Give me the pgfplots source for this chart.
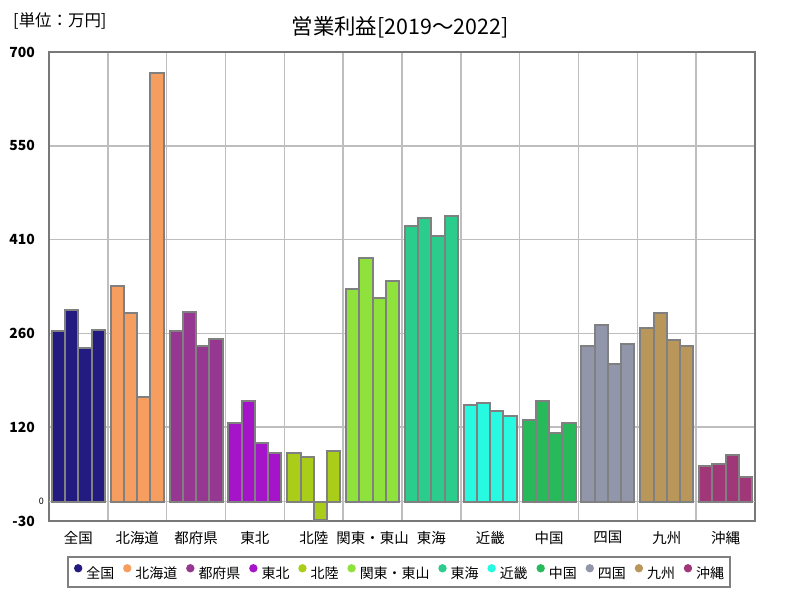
\documentclass[border=0pt]{standalone}
\usepackage{pgfplots}
\pgfplotsset{compat=1.18}
\usepackage{fontspec}
\setmainfont{Noto Sans CJK JP}
\definecolor{cA}{HTML}{231B80}
\definecolor{cB}{HTML}{F59E5F}
\definecolor{cC}{HTML}{963891}
\definecolor{cD}{HTML}{A514C8}
\definecolor{cE}{HTML}{AACD19}
\definecolor{cF}{HTML}{8FE13C}
\definecolor{cG}{HTML}{2ACD8C}
\definecolor{cH}{HTML}{28FAE1}
\definecolor{cI}{HTML}{28B95A}
\definecolor{cJ}{HTML}{9196AA}
\definecolor{cK}{HTML}{B9965A}
\definecolor{cL}{HTML}{A03778}
\definecolor{edge}{HTML}{808080}
\definecolor{gridc}{HTML}{BEBEBE}
\definecolor{framec}{HTML}{787878}
\begin{document}
\begin{tikzpicture}
\useasboundingbox (0bp,0bp) rectangle (800bp,600bp);
\node[font=\fontsize{21.5}{24}\selectfont] at (400bp,572.5bp) {営業利益[2019～2022]};
\node[anchor=west,inner sep=0pt,font=\fontsize{16.5}{19}\selectfont] at (13bp,579.5bp) {[単位：万円]};
\begin{axis}[
  at={(49bp,79bp)}, anchor=south west,
  scale only axis, width=706bp, height=469bp,
  xmin=-0.5, xmax=11.5, ymin=-30, ymax=700,
  axis line style={draw=framec, line width=2bp},
  tick style={draw=none},
  major tick length=0pt, minor tick length=0pt,
  xtick={0,1,2,3,4,5,6,7,8,9,10,11},
  xticklabels={全国,北海道,都府県,東北,北陸,関東・東山,東海,近畿,中国,四国,九州,沖縄},
  minor xtick={0.5,1.5,2.5,3.5,4.5,5.5,6.5,7.5,8.5,9.5,10.5},
  xminorgrids=true, xmajorgrids=false,
  ytick={-30,116,262,408,554,700},
  yticklabels={-30,120,260,410,550,700},
  ymajorgrids=true,
  grid style={draw=gridc, line width=1.5bp},
  minor grid style={draw=gridc, line width=1.5bp},
  extra y ticks={0}, extra y tick labels={0},
  extra y tick style={ymajorgrids=true, yticklabel style={font=\fontsize{9}{10}\selectfont, xshift=9bp}},
  xticklabel style={font=\fontsize{14.5}{16}\selectfont, anchor=north, inner sep=0pt, yshift=-10bp},
  yticklabel style={font=\fontsize{14}{16}\selectfont\bfseries, anchor=east, inner sep=0pt, xshift=-14bp},
  /pgf/number format/assume math mode=true,
  legend image code/.code={\fill[#1] (0bp,5bp) circle (4.2bp);},
  legend columns=12,
  legend style={at={(0.4958,-0.1087)}, anchor=center, draw=edge, line width=2bp,
    inner xsep=6bp, inner ysep=7bp,
    font=\fontsize{14}{16}\selectfont,
    nodes={inner sep=0bp},
    /tikz/every odd column/.append style={column sep=4bp},
    /tikz/every even column/.append style={column sep=8.8bp}},
  legend cell align=left,
]
\addplot[ybar, bar width=0.225, bar shift=0pt, fill=cA, draw=edge, line width=2bp, forget plot] coordinates {(-0.3375,265) (-0.1125,298) (0.1125,239) (0.3375,268)};
\addplot[ybar, bar width=0.225, bar shift=0pt, fill=cB, draw=edge, line width=2bp, forget plot] coordinates {(0.6625,335) (0.8875,294) (1.1125,163) (1.3375,667)};
\addplot[ybar, bar width=0.225, bar shift=0pt, fill=cC, draw=edge, line width=2bp, forget plot] coordinates {(1.6625,265) (1.8875,296) (2.1125,243) (2.3375,254)};
\addplot[ybar, bar width=0.225, bar shift=0pt, fill=cD, draw=edge, line width=2bp, forget plot] coordinates {(2.6625,122) (2.8875,157) (3.1125,92) (3.3375,76)};
\addplot[ybar, bar width=0.225, bar shift=0pt, fill=cE, draw=edge, line width=2bp, forget plot] coordinates {(3.6625,76) (3.8875,70) (4.1125,-28) (4.3375,79)};
\addplot[ybar, bar width=0.225, bar shift=0pt, fill=cF, draw=edge, line width=2bp, forget plot] coordinates {(4.6625,331) (4.8875,380) (5.1125,317) (5.3375,343)};
\addplot[ybar, bar width=0.225, bar shift=0pt, fill=cG, draw=edge, line width=2bp, forget plot] coordinates {(5.6625,429) (5.8875,442) (6.1125,413) (6.3375,445)};
\addplot[ybar, bar width=0.225, bar shift=0pt, fill=cH, draw=edge, line width=2bp, forget plot] coordinates {(6.6625,151) (6.8875,153) (7.1125,141) (7.3375,134)};
\addplot[ybar, bar width=0.225, bar shift=0pt, fill=cI, draw=edge, line width=2bp, forget plot] coordinates {(7.6625,127) (7.8875,157) (8.1125,107) (8.3375,122)};
\addplot[ybar, bar width=0.225, bar shift=0pt, fill=cJ, draw=edge, line width=2bp, forget plot] coordinates {(8.6625,242) (8.8875,275) (9.1125,214) (9.3375,245)};
\addplot[ybar, bar width=0.225, bar shift=0pt, fill=cK, draw=edge, line width=2bp, forget plot] coordinates {(9.6625,270) (9.8875,293) (10.1125,252) (10.3375,242)};
\addplot[ybar, bar width=0.225, bar shift=0pt, fill=cL, draw=edge, line width=2bp, forget plot] coordinates {(10.6625,56) (10.8875,59) (11.1125,73) (11.3375,38)};
\addlegendimage{fill=cA, draw=none}\addlegendentry{全国}
\addlegendimage{fill=cB, draw=none}\addlegendentry{北海道}
\addlegendimage{fill=cC, draw=none}\addlegendentry{都府県}
\addlegendimage{fill=cD, draw=none}\addlegendentry{東北}
\addlegendimage{fill=cE, draw=none}\addlegendentry{北陸}
\addlegendimage{fill=cF, draw=none}\addlegendentry{関東・東山}
\addlegendimage{fill=cG, draw=none}\addlegendentry{東海}
\addlegendimage{fill=cH, draw=none}\addlegendentry{近畿}
\addlegendimage{fill=cI, draw=none}\addlegendentry{中国}
\addlegendimage{fill=cJ, draw=none}\addlegendentry{四国}
\addlegendimage{fill=cK, draw=none}\addlegendentry{九州}
\addlegendimage{fill=cL, draw=none}\addlegendentry{沖縄}
\end{axis}
\end{tikzpicture}
\end{document}
